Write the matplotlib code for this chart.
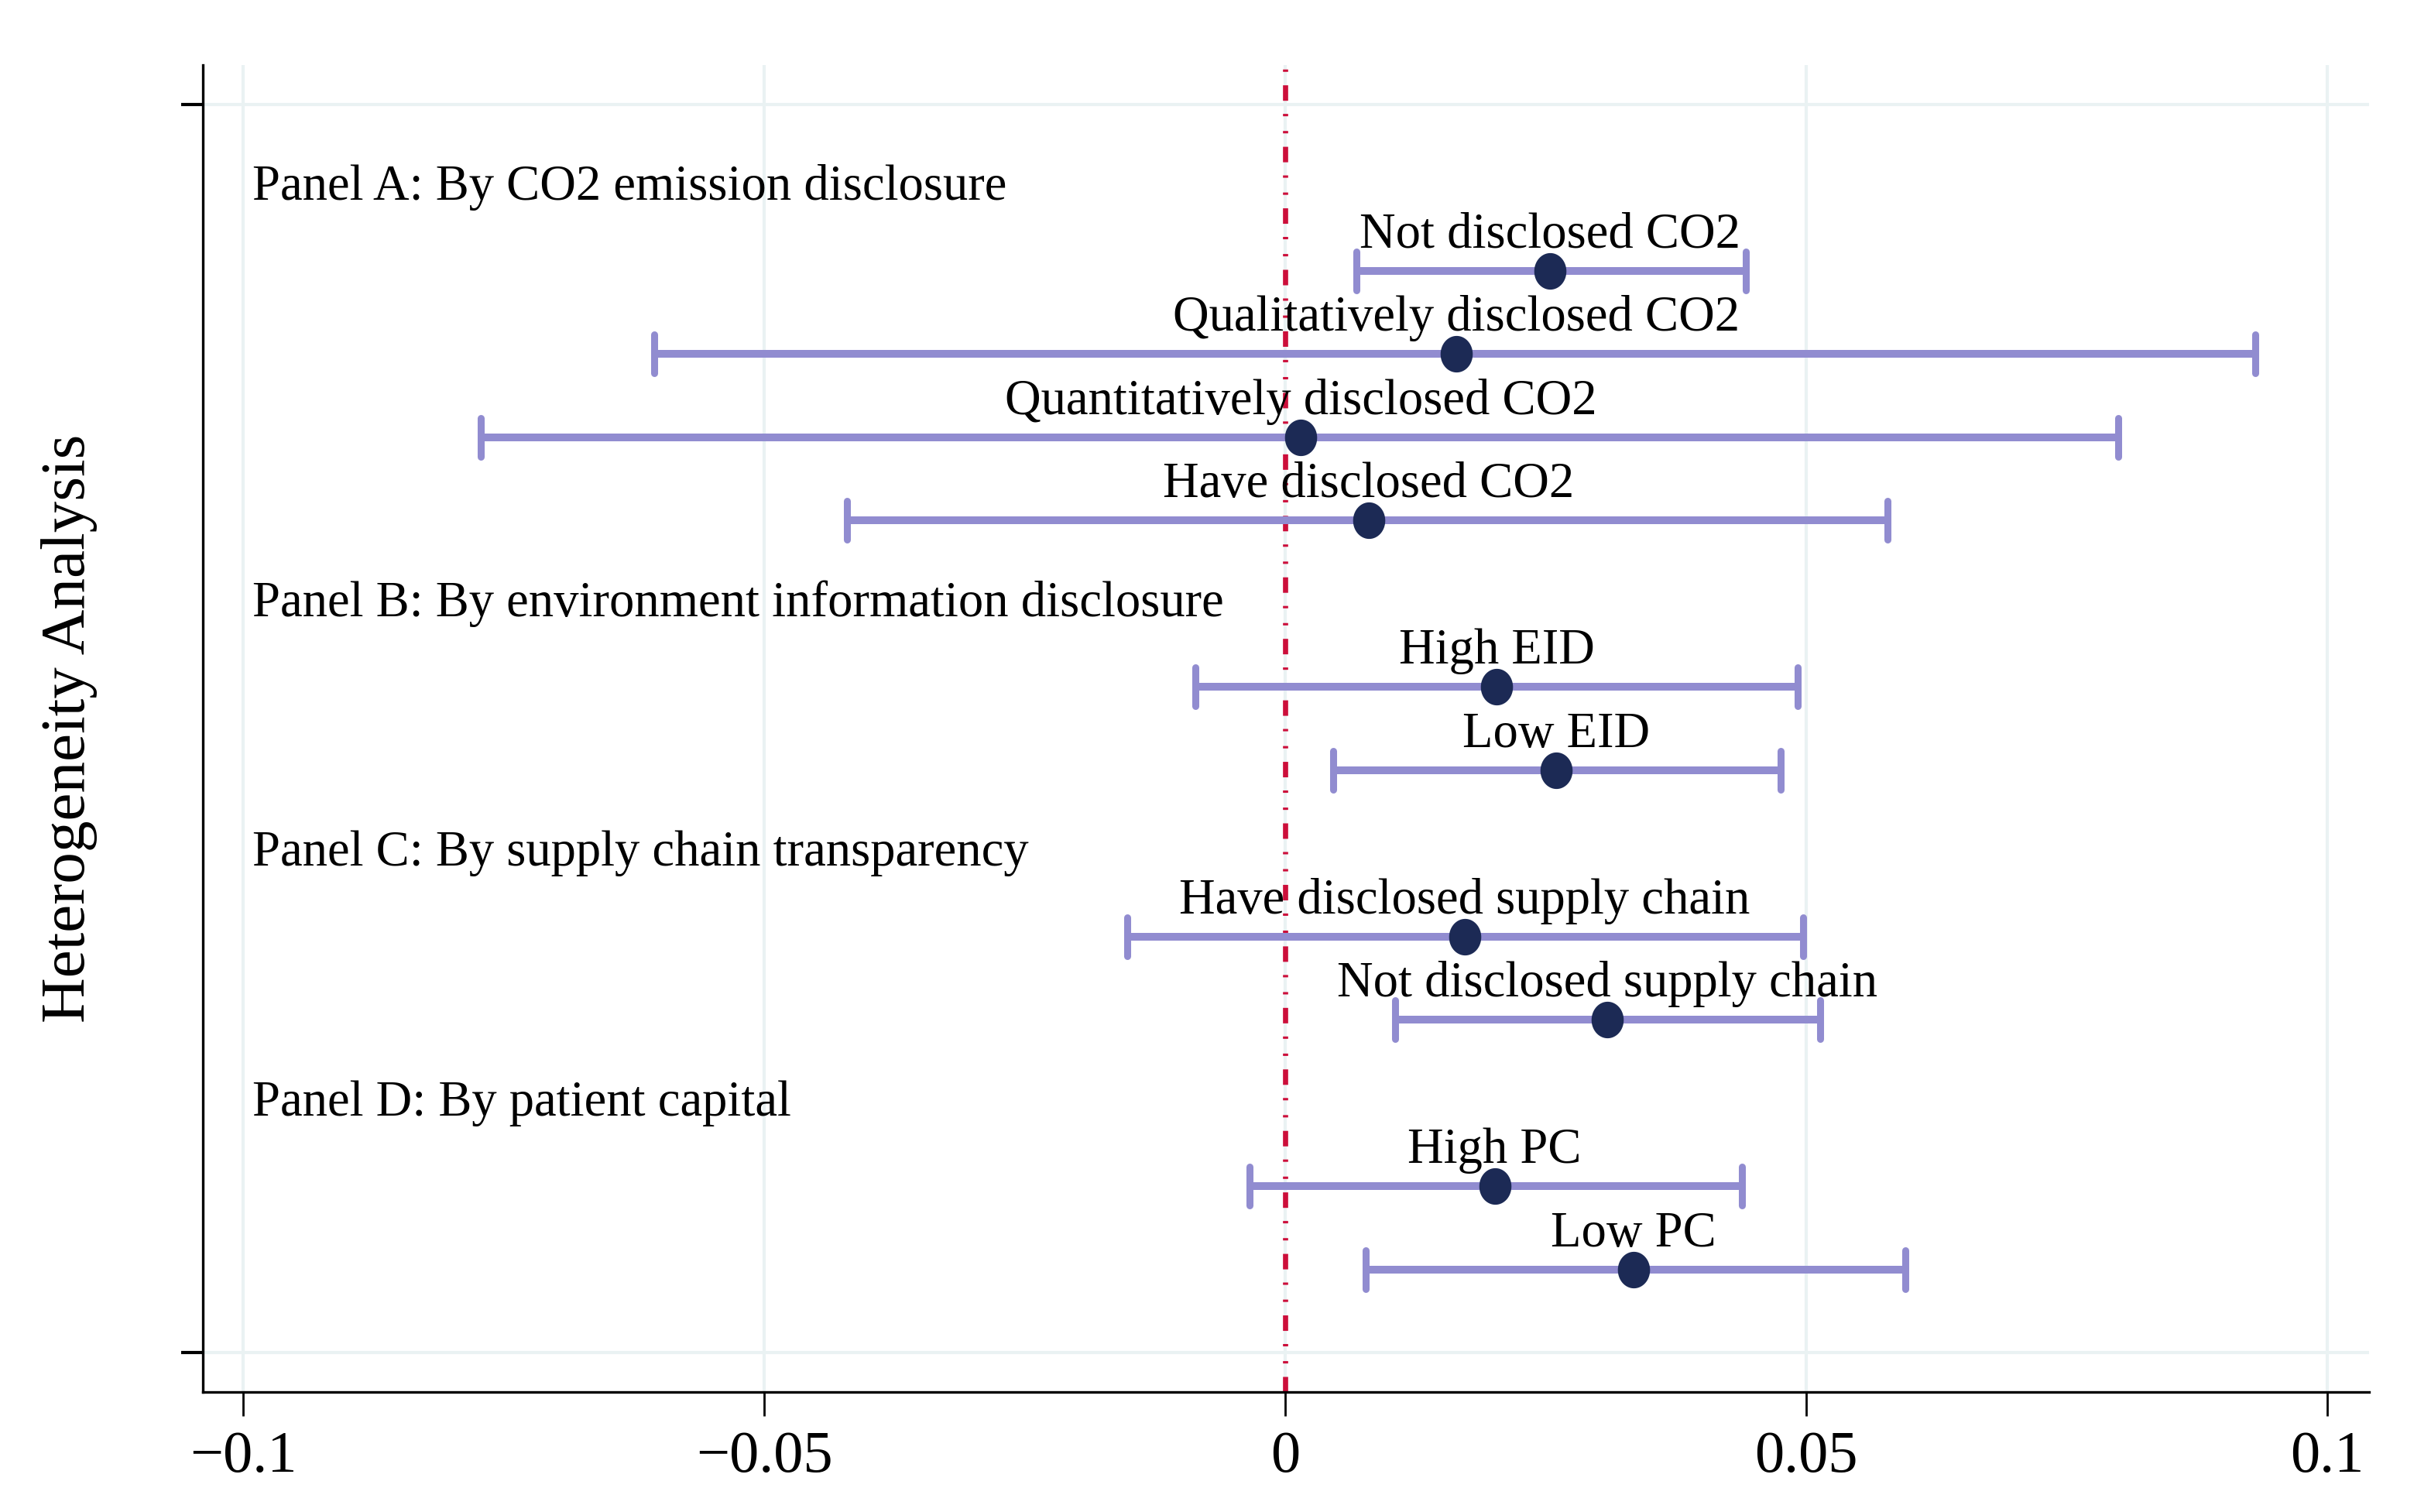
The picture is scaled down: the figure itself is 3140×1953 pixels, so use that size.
import matplotlib
matplotlib.use("Agg")
import matplotlib.pyplot as plt
from matplotlib.markers import MarkerStyle
from matplotlib.path import Path
import numpy as np

plt.rcParams['font.family'] = ['Liberation Serif', 'DejaVu Serif']
plt.rcParams['axes.unicode_minus'] = True
plt.rcParams['lines.scale_dashes'] = False

# ---- data ----
panels = ["Panel A: By CO2 emission disclosure",
          "Panel B: By environment information disclosure",
          "Panel C: By supply chain transparency",
          "Panel D: By patient capital"]
panel_rows = [0, 5, 8, 11]

labels = ["Not disclosed CO2", "Qualitatively disclosed CO2",
          "Quantitatively disclosed CO2", "Have disclosed CO2",
          "High EID", "Low EID",
          "Have disclosed supply chain", "Not disclosed supply chain",
          "High PC", "Low PC"]
item_rows = [1, 2, 3, 4, 6, 7, 9, 10, 12, 13]
coef = [0.0254, 0.0164, 0.0015, 0.0080, 0.0203, 0.0260, 0.0172, 0.0309, 0.0201, 0.0334]
ci_low = [0.0068, -0.0606, -0.0772, -0.0421, -0.0086, 0.0046, -0.0152, 0.0105, -0.0034, 0.0077]
ci_high = [0.0442, 0.0931, 0.0799, 0.0578, 0.0492, 0.0475, 0.0497, 0.0513, 0.0438, 0.0595]

xticks = [-0.1, -0.05, 0, 0.05, 0.1]
xticklabels = ["\u22120.1", "\u22120.05", "0", "0.05", "0.1"]
yticks = [-1, 14]

ci_color = "#918CD0"
pt_color = "#1C2A55"
ref_color = "#CC0E3A"
grid_color = "#EAF2F3"

fig = plt.figure(figsize=(31.4, 19.53), dpi=100)
ax = fig.add_axes([0.0834, 0.0794, 0.8911, 0.8776])

ax.set_xlim(-0.1039, 0.1040)
ax.set_ylim(14.47, -1.47)

# grid
for xt in xticks:
    ax.axvline(xt, color=grid_color, lw=3.0, zorder=0)
for yt in yticks:
    ax.axhline(yt, color=grid_color, lw=3.0, zorder=0)

# reference line
ax.axvline(0, color=ref_color, lw=4.8,
           dashes=(14.4, 12.5, 2.2, 13.7, 2.2, 12.2), zorder=1)

coef_a = np.array(coef)
lo = coef_a - np.array(ci_low)
hi = np.array(ci_high) - coef_a
eb = ax.errorbar(coef_a, item_rows, xerr=[lo, hi], fmt='none', ecolor=ci_color,
                 elinewidth=7.2, capsize=18, capthick=6.5, zorder=2)
for cap in eb[1]:
    cap.set_marker(MarkerStyle('|', capstyle='round'))

# slightly tall ellipse marker
t = np.linspace(0, 2 * np.pi, 64)
ell = Path(np.column_stack([np.cos(t) * 0.88, np.sin(t)]), closed=True)
ax.plot(coef_a, item_rows, linestyle='none', marker=ell, color=pt_color,
        markersize=34, zorder=3, markeredgewidth=0)

for c, r, lab in zip(coef, item_rows, labels):
    ax.text(c, r - 0.28, lab, ha='center', va='baseline', fontsize=46.5, zorder=4)

for r, p in zip(panel_rows, panels):
    ax.text(-0.0991, r, p, ha='left', va='center', fontsize=46.5, zorder=4)

ax.set_xticks(xticks)
ax.set_xticklabels(xticklabels, fontsize=55)
ax.set_yticks(yticks)
ax.set_yticklabels([])
ax.tick_params(axis='x', length=22, width=2, pad=14)
ax.tick_params(axis='y', length=20, width=3)
for s in ['top', 'right']:
    ax.spines[s].set_visible(False)
for s in ['left', 'bottom']:
    ax.spines[s].set_linewidth(2.4)

ax.set_ylabel("Heterogeneity Analysis", fontsize=58.5, labelpad=74)

fig.savefig("out.png", dpi=100)
